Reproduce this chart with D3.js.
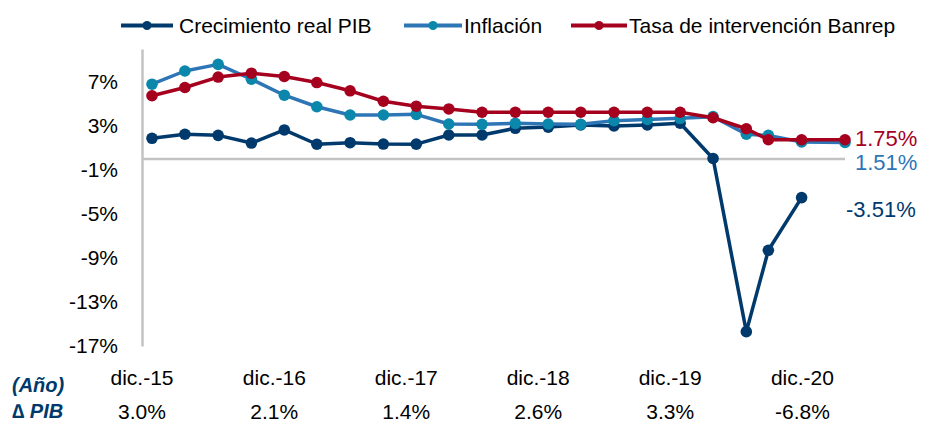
<!DOCTYPE html>
<html>
<head>
<meta charset="utf-8">
<script src="https://cdn.jsdelivr.net/npm/d3@7"></script>
<style>
  body { margin: 0; background: #fff; }
  svg text { font-family: "Liberation Sans", Arial, sans-serif; }
</style>
</head>
<body>
<svg id="chart"></svg>
<script>
// fechas de cada punto (mes)
const dates = ["2015-12","2016-03","2016-06","2016-09","2016-12","2017-03","2017-06","2017-09","2017-12",
  "2018-03","2018-06","2018-09","2018-12","2019-03","2019-06","2019-09","2019-12","2020-03","2020-06",
  "2020-08","2020-11","2021-03"];

const pib = [1.88, 2.25, 2.15, 1.45, 2.64, 1.34, 1.48, 1.36, 1.35, 2.18, 2.18, 2.79, 2.9, 3.1, 3.0, 3.1,
  3.25, 0.05, -15.7, -8.3, -3.51];
const inflacion = [6.8, 8.0, 8.6, 7.25, 5.8, 4.75, 4.0, 4.0, 4.06, 3.18, 3.15, 3.24, 3.18, 3.15, 3.48,
  3.6, 3.7, 3.85, 2.25, 2.15, 1.55, 1.51];
const tasa = [5.75, 6.5, 7.45, 7.8, 7.5, 6.95, 6.2, 5.25, 4.8, 4.55, 4.25, 4.25, 4.25, 4.25, 4.25, 4.25,
  4.25, 3.75, 2.75, 1.75, 1.75, 1.75];

const yTicks = [-17, -13, -9, -5, -1, 3, 7];
const years = ["dic.-15", "dic.-16", "dic.-17", "dic.-18", "dic.-19", "dic.-20"];
const yearDates = ["2015-12", "2016-12", "2017-12", "2018-12", "2019-12", "2020-12"];
const pibAnual = ["3.0%", "2.1%", "1.4%", "2.6%", "3.3%", "-6.8%"];

const w = 932, h = 433;
const navy = "#003a6c", azul = "#2e75b6", teal = "#0a87ab", rojo = "#a6001f", gris = "#c3c3c3";

const parse = d3.timeParse("%Y-%m");

const xScale = d3.scaleTime()
  .domain([parse(dates[0]), parse(dates[dates.length - 1])])
  .range([152, 845]);

const yScale = d3.scaleLinear()
  .domain([-17, 10])
  .range([346, 49]);

const svg = d3.select("#chart").attr("width", w).attr("height", h);

// eje y
const yAxis = d3.axisLeft(yScale)
  .tickValues(yTicks)
  .tickSize(0)
  .tickPadding(24)
  .tickFormat(d => d + "%");

svg.append("g")
  .attr("transform", "translate(142,0)")
  .call(yAxis)
  .call(g => g.select(".domain").attr("stroke", gris).attr("stroke-width", 2.5))
  .call(g => g.selectAll("text").attr("font-size", 21).attr("fill", "#000")
    .attr("font-family", "Liberation Sans, Arial, sans-serif"));

// linea del cero
svg.append("line")
  .attr("x1", 142).attr("x2", 845)
  .attr("y1", yScale(0)).attr("y2", yScale(0))
  .attr("stroke", gris).attr("stroke-width", 2.5);

const series = [
  { name: "Crecimiento real PIB", values: pib, line: navy, dot: navy },
  { name: "Inflación", values: inflacion, line: azul, dot: teal },
  { name: "Tasa de intervención Banrep", values: tasa, line: rojo, dot: rojo }
];

const line = d3.line()
  .x(d => xScale(d[0]))
  .y(d => yScale(d[1]));

series.forEach(s => {
  const pts = s.values.map((v, i) => [parse(dates[i]), v]);
  svg.append("path")
    .datum(pts)
    .attr("fill", "none")
    .attr("stroke", s.line)
    .attr("stroke-width", 3.5)
    .attr("stroke-linejoin", "round")
    .attr("d", line);
  svg.append("g").selectAll("circle")
    .data(pts)
    .enter()
    .append("circle")
    .attr("cx", d => xScale(d[0]))
    .attr("cy", d => yScale(d[1]))
    .attr("r", 5.8)
    .attr("fill", s.dot);
});

// etiquetas finales
const lastT = tasa[tasa.length - 1], lastI = inflacion[inflacion.length - 1], lastP = pib[pib.length - 1];
svg.append("text").attr("x", 855).attr("y", yScale(lastT) - 1).attr("dominant-baseline", "central")
  .attr("font-size", 22).attr("fill", rojo).text(lastT.toFixed(2) + "%");
svg.append("text").attr("x", 855).attr("y", yScale(lastI) + 20).attr("dominant-baseline", "central")
  .attr("font-size", 22).attr("fill", azul).text(lastI.toFixed(2) + "%");
svg.append("text").attr("x", 846).attr("y", yScale(lastP) + 12).attr("dominant-baseline", "central")
  .attr("font-size", 22).attr("fill", navy).text(lastP.toFixed(2) + "%");

// leyenda
const legendX = [[121, 173, 179], [404, 462, 464], [571, 627, 629]];
const legend = svg.append("g");
series.forEach((s, i) => {
  const [x1, x2, tx] = legendX[i];
  legend.append("line").attr("x1", x1).attr("x2", x2).attr("y1", 25.5).attr("y2", 25.5)
    .attr("stroke", s.line).attr("stroke-width", 4);
  legend.append("circle").attr("cx", (x1 + x2) / 2).attr("cy", 25.5).attr("r", 4.5).attr("fill", s.dot);
  legend.append("text").attr("x", tx).attr("y", 25.5).attr("dominant-baseline", "central")
    .attr("font-size", 21).attr("fill", "#000").text(s.name);
});

// tabla inferior
svg.append("text").attr("x", 12).attr("y", 385).attr("dominant-baseline", "central")
  .attr("font-size", 20).attr("font-weight", "bold").attr("font-style", "italic")
  .attr("fill", navy).text("(Año)");
svg.append("text").attr("x", 12).attr("y", 411).attr("dominant-baseline", "central")
  .attr("font-size", 20).attr("font-weight", "bold").attr("font-style", "italic")
  .attr("fill", navy).text("∆ PIB");

svg.append("g").selectAll("text")
  .data(years)
  .enter()
  .append("text")
  .attr("x", (d, i) => xScale(parse(yearDates[i])) - 10)
  .attr("y", 377)
  .attr("text-anchor", "middle")
  .attr("dominant-baseline", "central")
  .attr("font-size", 21)
  .text(d => d);

svg.append("g").selectAll("text")
  .data(pibAnual)
  .enter()
  .append("text")
  .attr("x", (d, i) => xScale(parse(yearDates[i])) - 10)
  .attr("y", 411)
  .attr("text-anchor", "middle")
  .attr("dominant-baseline", "central")
  .attr("font-size", 21)
  .text(d => d);
</script>
</body>
</html>
